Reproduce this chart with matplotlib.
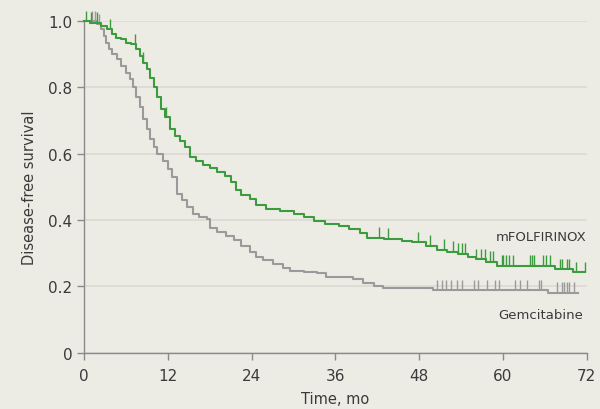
import numpy as np
import matplotlib
matplotlib.use("Agg")
import matplotlib.pyplot as plt

# Kaplan-Meier, disease-free survival
folf_t = [0, 0.8, 2.5, 3.3, 4.0, 4.6, 5.3, 6.0, 6.8, 7.4, 8.0, 8.5, 9.0, 9.5, 10.0,
          10.5, 11.0, 11.6, 12.3, 13.0, 13.8, 14.5, 15.2, 16.0, 17.0, 18.0, 19.0,
          20.2, 21.0, 21.8, 22.5, 23.7, 24.7, 26.0, 28.0, 30.0, 31.5, 33.0, 34.5,
          36.5, 38.0, 39.5, 40.5, 43.0, 45.5, 47.0, 49.0, 50.5, 52.0, 53.5, 55.0,
          56.2, 57.5, 59.1, 67.5, 70.0, 71.8]
folf_s = [1.0, 0.995, 0.985, 0.975, 0.96, 0.95, 0.945, 0.935, 0.93, 0.915, 0.895,
          0.875, 0.855, 0.83, 0.80, 0.77, 0.735, 0.71, 0.675, 0.655, 0.64, 0.62,
          0.59, 0.578, 0.567, 0.558, 0.545, 0.533, 0.515, 0.49, 0.475, 0.465, 0.445,
          0.435, 0.428, 0.418, 0.41, 0.398, 0.388, 0.382, 0.372, 0.36, 0.346, 0.343,
          0.338, 0.333, 0.322, 0.31, 0.305, 0.298, 0.29, 0.282, 0.275, 0.262, 0.252,
          0.243, 0.243]
folf_cens = [0.3, 1.0, 1.8, 3.7, 7.3, 8.5, 11.8, 42.3, 43.5, 47.8, 49.5, 51.6, 52.8,
             53.5, 54.1, 54.5, 56.2, 56.9, 57.4, 58.1, 58.5, 59.8, 60.0, 60.5, 60.9,
             61.4, 63.8, 64.1, 64.4, 65.7, 66.1, 66.7, 68.1, 68.5, 69.1, 69.5, 70.5,
             71.7]

gem_t = [0, 1.8, 2.4, 2.8, 3.2, 3.6, 4.0, 4.7, 5.3, 6.0, 6.6, 7.0, 7.5, 8.0, 8.5,
         9.0, 9.5, 10.0, 10.5, 11.3, 12.0, 12.6, 13.3, 14.0, 14.8, 15.6, 16.5, 17.6,
         18.0, 19.0, 20.4, 21.5, 22.5, 23.7, 24.6, 25.6, 27.0, 28.5, 29.5, 31.5,
         33.3, 34.7, 38.5, 40.0, 41.5, 42.8, 50.0, 66.5, 70.7]
gem_s = [1.0, 0.99, 0.975, 0.955, 0.935, 0.915, 0.9, 0.885, 0.865, 0.845, 0.825,
         0.80, 0.77, 0.74, 0.705, 0.675, 0.645, 0.62, 0.60, 0.578, 0.555, 0.53, 0.48,
         0.46, 0.44, 0.42, 0.41, 0.404, 0.375, 0.365, 0.352, 0.34, 0.322, 0.305,
         0.29, 0.28, 0.268, 0.257, 0.248, 0.245, 0.24, 0.228, 0.223, 0.21, 0.2,
         0.195, 0.188, 0.181, 0.181]
gem_cens = [1.2, 1.6, 2.1, 50.5, 51.2, 51.9, 52.6, 53.4, 54.1, 55.9, 56.4, 57.7,
            58.8, 59.4, 61.7, 62.4, 63.4, 65.1, 65.4, 67.7, 68.4, 68.8, 69.1, 69.5,
            70.2]

bg = "#EDECE4"
green = "#3C9B3E"
grey = "#9A9A9A"

fig = plt.figure(figsize=(6, 4.1), dpi=100, facecolor=bg)
ax = fig.add_axes([0.14, 0.137, 0.838, 0.809], facecolor=bg)


def surv_at(t, tt, ss):
    i = np.searchsorted(tt, t, side="right") - 1
    return np.asarray(ss)[i]


for tt, ss, cc, col in [(gem_t, gem_s, gem_cens, grey), (folf_t, folf_s, folf_cens, green)]:
    ax.step(tt, ss, where="post", color=col, lw=1.5, clip_on=False, zorder=3)
    yc = surv_at(cc, tt, ss)
    ax.vlines(cc, yc, yc + 0.032, color=col, lw=1.0, clip_on=False, zorder=3)

ax.set_xlim(0, 72)
ax.set_ylim(0, 1.0)
ax.set_xticks(range(0, 73, 12))
ax.set_yticks([0, 0.2, 0.4, 0.6, 0.8, 1.0])
ax.set_yticklabels(["0", "0.2", "0.4", "0.6", "0.8", "1.0"])
ax.yaxis.grid(True, color="#DCDBD3", lw=1.2)
ax.set_axisbelow(True)
for s in ["top", "right"]:
    ax.spines[s].set_visible(False)
for s in ["left", "bottom"]:
    ax.spines[s].set_color("#8A8A8A")
    ax.spines[s].set_linewidth(1.0)
ax.tick_params(colors="#8A8A8A", labelcolor="#3A3A3A", labelsize=11, length=5, width=1)
ax.tick_params(axis="x", pad=6)

ax.set_xlabel("Time, mo", fontsize=10.5, color="#3A3A3A", labelpad=6)
ax.set_ylabel("Disease-free survival", fontsize=10.5, color="#3A3A3A", labelpad=8)

ax.text(72, 0.352, "mFOLFIRINOX", ha="right", va="center", fontsize=9.5,
        color="#3A3A3A", family="Liberation Sans Narrow")
ax.text(71.5, 0.115, "Gemcitabine", ha="right", va="center", fontsize=9.5,
        color="#3A3A3A", family="Liberation Sans Narrow")

fig.savefig("out.png", dpi=100, facecolor=bg)
